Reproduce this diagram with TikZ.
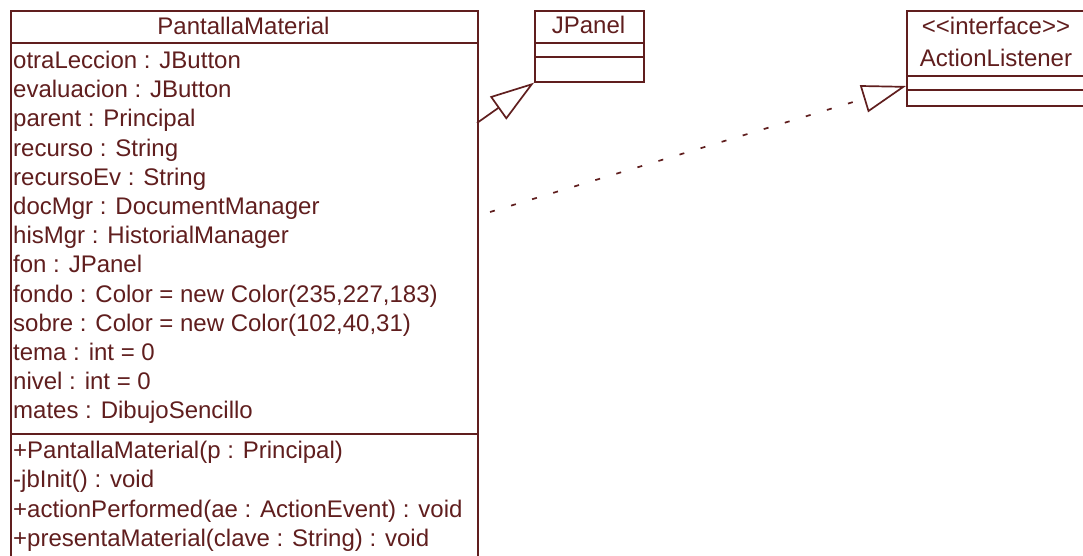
\documentclass[tikz,border=0pt]{standalone}
\usepackage{fontspec}
\setmainfont{Liberation Sans}
\usetikzlibrary{arrows.meta}
\definecolor{umlred}{RGB}{96,30,30}
\begin{document}
\begin{tikzpicture}[x=1pt,y=-1pt]
\tikzset{
  classbox/.style={draw=umlred, line width=1.7pt, rectangle, inner sep=0pt, anchor=north west},
  rule/.style={draw=umlred, line width=1.7pt},
  member/.style={anchor=base west, inner sep=0pt, text=umlred, font=\fontsize{24}{28}\selectfont},
  classname/.style={anchor=base, inner sep=0pt, text=umlred, font=\fontsize{24}{28}\selectfont},
  umltip/.style={-{Triangle[open, length=44pt, width=28pt, line join=miter]}},
  inherit/.style={rule, umltip},
  realize/.style={rule, umltip, dash pattern=on 5pt off 17pt},
}
\useasboundingbox (0,0) rectangle (1083,556);
\clip (0,0) rectangle (1083,556);
\fill[white] (0,0) rectangle (1083,556);

% class PantallaMaterial (runs past the lower edge)
\node[classbox, minimum width=467pt, minimum height=600pt] (pm) at (10,10) {};
\draw[rule] (10,43) -- (477,43);
\draw[rule] (10,434) -- (477,434);
\node[classname] (pmname) at (243.5,35) {PantallaMaterial};
\node[member] (a1)  at (13,68.5)  {otraLeccion : JButton};
\node[member] (a2)  at (13,97.7)  {evaluacion : JButton};
\node[member] (a3)  at (13,126.9) {parent : Principal};
\node[member] (a4)  at (13,156.1) {recurso : String};
\node[member] (a5)  at (13,185.3) {recursoEv : String};
\node[member] (a6)  at (13,214.5) {docMgr : DocumentManager};
\node[member] (a7)  at (13,243.7) {hisMgr : HistorialManager};
\node[member] (a8)  at (13,272.9) {fon : JPanel};
\node[member] (a9)  at (13,302.1) {fondo : Color = new Color(235,227,183)};
\node[member] (a10) at (13,331.3) {sobre : Color = new Color(102,40,31)};
\node[member] (a11) at (13,360.5) {tema : int = 0};
\node[member] (a12) at (13,389.7) {nivel : int = 0};
\node[member] (a13) at (13,418.9) {mates : DibujoSencillo};
\node[member] (m1)  at (13,458.5) {+PantallaMaterial(p : Principal)};
\node[member] (m2)  at (13,487.8) {-jbInit() : void};
\node[member] (m3)  at (13,517.1) {+actionPerformed(ae : ActionEvent) : void};
\node[member] (m4)  at (13,546.4) {+presentaMaterial(clave : String) : void};

% class JPanel
\node[classbox, minimum width=109pt, minimum height=71pt] (jp) at (534,10) {};
\draw[rule] (534,43) -- (643,43);
\draw[rule] (534,57) -- (643,57);
\node[classname] (jpname) at (588.5,34) {JPanel};

% interface ActionListener (runs past the right edge)
\node[classbox, minimum width=180pt, minimum height=95pt] (al) at (906,10) {};
\draw[rule] (906,76) -- (1086,76);
\draw[rule] (906,90) -- (1086,90);
\node[classname] (alstereo) at (996,34.5) {<\kern0pt<interface>\kern0pt>};
\node[classname] (alname) at (996,67) {ActionListener};

% generalization and realization
\coordinate (gstart) at (477,123);
\coordinate (rstart) at (490,212);
\coordinate (rlevel) at (0,86);
\draw[inherit] (gstart) -- (jp.south west);
\draw[realize] (rstart) -- (al.west |- rlevel);
\end{tikzpicture}
\end{document}
